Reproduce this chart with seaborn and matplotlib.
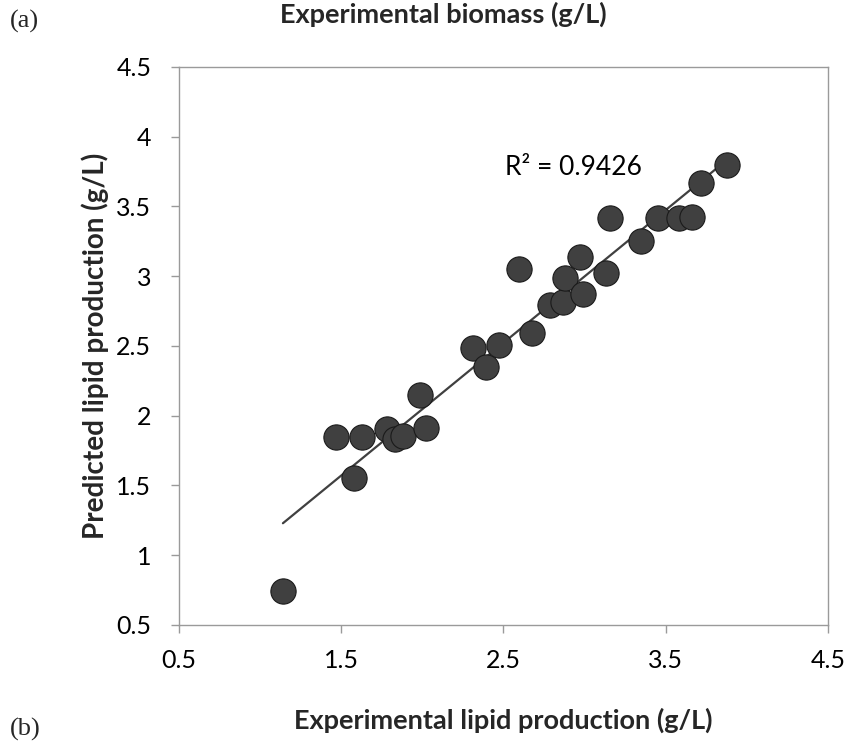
import matplotlib
matplotlib.use("Agg")
import matplotlib.pyplot as plt
import seaborn as sns
import numpy as np
import pandas as pd

experimental = [1.14, 1.47, 1.63, 1.58, 1.78, 1.83, 1.88, 2.02, 1.985,
                2.31, 2.39, 2.47, 2.675, 2.595, 2.79, 2.87, 2.88, 2.99,
                2.97, 3.13, 3.155, 3.35, 3.45, 3.58, 3.66, 3.72, 3.88]
predicted = [0.74, 1.85, 1.85, 1.55, 1.905, 1.83, 1.855, 1.91, 2.15,
             2.485, 2.35, 2.51, 2.59, 3.05, 2.79, 2.815, 2.99, 2.87,
             3.14, 3.02, 3.42, 3.25, 3.42, 3.42, 3.425, 3.67, 3.80]
ticks = [0.5, 1.5, 2.5, 3.5, 4.5]
yticks = [0.5, 1, 1.5, 2, 2.5, 3, 3.5, 4, 4.5]
ytick_labels = ["0.5", "1", "1.5", "2", "2.5", "3", "3.5", "4", "4.5"]
r2_label = "R² = 0.9426"

df = pd.DataFrame({"exp": experimental, "pred": predicted})

sns.set_theme(style="white")
plt.rcParams["font.family"] = ["Lato", "DejaVu Sans"]

fig = plt.figure(figsize=(8.49, 7.52), dpi=100)
ax = fig.add_axes([0.211, 0.169, 0.764, 0.742])

sns.regplot(data=df, x="exp", y="pred", scatter=False, ci=None, ax=ax,
            line_kws=dict(color="#404040", lw=1.6), truncate=True)
sns.scatterplot(data=df, x="exp", y="pred", ax=ax, s=330, color="#404040",
                edgecolor="#1a1a1a", linewidth=0.8, zorder=3, legend=False)

ax.set_xlim(0.5, 4.5)
ax.set_ylim(0.5, 4.5)
ax.set_xticks(ticks)
ax.set_xticklabels([str(t) for t in ticks])
ax.set_yticks(yticks)
ax.set_yticklabels(ytick_labels)
ax.tick_params(axis="both", which="major", direction="out", length=6,
               width=1, color="#9a9a9a", labelsize=18, labelcolor="#000000",
               bottom=True, left=True)
ax.tick_params(axis="x", pad=11)
ax.tick_params(axis="y", pad=14)
for sp in ax.spines.values():
    sp.set_color("#9a9a9a")
    sp.set_linewidth(1.0)

ax.set_xlabel("Experimental lipid production (g/L)", fontsize=19.5,
              fontweight="bold", labelpad=26)
ax.set_ylabel("Predicted lipid production (g/L)", fontsize=20,
              fontweight="bold", labelpad=5)

ax.text(2.51, 3.78, r2_label, fontsize=19, ha="left", va="center", color="#000000")

fig.text(0.522, 0.981, "Experimental biomass (g/L)", fontsize=19.5,
         fontweight="bold", ha="center", va="center")
fig.text(0.012, 0.972, "(a)", fontsize=19, family="Liberation Serif",
         ha="left", va="center")
fig.text(0.012, 0.03, "(b)", fontsize=19, family="Liberation Serif",
         ha="left", va="center")

fig.savefig("out.png", dpi=100)
